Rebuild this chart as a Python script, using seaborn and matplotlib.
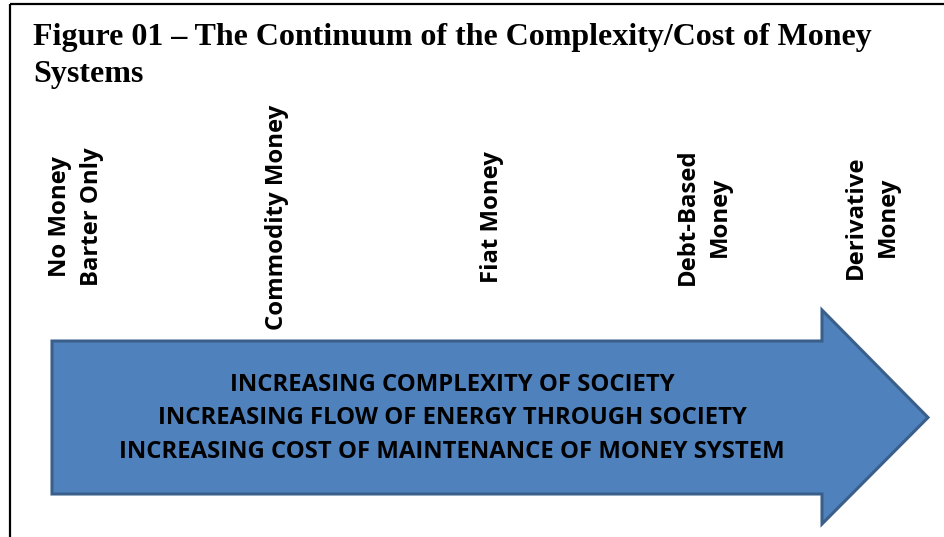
import numpy as np
import pandas as pd
import seaborn as sns
import matplotlib.pyplot as plt
from matplotlib.patches import Polygon

# stages along the continuum, left to right
stages = ["No Money\nBarter Only", "Commodity Money", "Fiat Money",
          "Debt-Based\nMoney", "Derivative\nMoney"]
stage_x = [76, 277, 492, 704, 872]

arrow_lines = ["INCREASING COMPLEXITY OF SOCIETY",
               "INCREASING FLOW OF ENERGY THROUGH SOCIETY",
               "INCREASING COST OF MAINTENANCE OF MONEY SYSTEM"]

title = "Figure 01 \u2013 The Continuum of the Complexity/Cost of Money\nSystems"

sns.set_theme(style="white")
plt.rcParams['font.family'] = ['Open Sans', 'DejaVu Sans']

W, H = 945, 537
fig = plt.figure(figsize=(W / 100, H / 100), dpi=100)
ax = fig.add_axes([0, 0, 1, 1])
ax.set_xlim(0, W)
ax.set_ylim(H, 0)
ax.axis("off")

# frame: top and left edges only
ax.plot([10, W], [3.5, 3.5], color="black", lw=1.6, solid_capstyle="butt")
ax.plot([10, 10], [3.5, H], color="black", lw=1.6, solid_capstyle="butt")

ax.text(33, 23, title, family="Liberation Serif", fontweight="bold",
        fontsize=23, va="top", ha="left", linespacing=1.38,
        color="black")

for label, x in zip(stages, stage_x):
    ax.text(x, 217, label, rotation=90, ha="center", va="center",
            multialignment="center", fontsize=17.2, fontweight="bold",
            linespacing=1.45, color="black")

# big arrow
x0, x1, tip = 52, 822, 928
yb0, yb1 = 341, 494
yh0, yh1 = 310, 524
ymid = (yb0 + yb1) / 2
pts = [(x0, yb0), (x1, yb0), (x1, yh0), (tip, ymid),
       (x1, yh1), (x1, yb1), (x0, yb1)]
ax.add_patch(Polygon(pts, closed=True, facecolor="#4F81BD",
                     edgecolor="#3A5F8B", lw=2.2, joinstyle="miter"))

for i, line in enumerate(arrow_lines):
    ax.text(452, 385 + 33.5 * i, line, ha="center", va="center",
            fontsize=17.2, fontweight="bold", color="black")

fig.savefig("out.png", dpi=100)
